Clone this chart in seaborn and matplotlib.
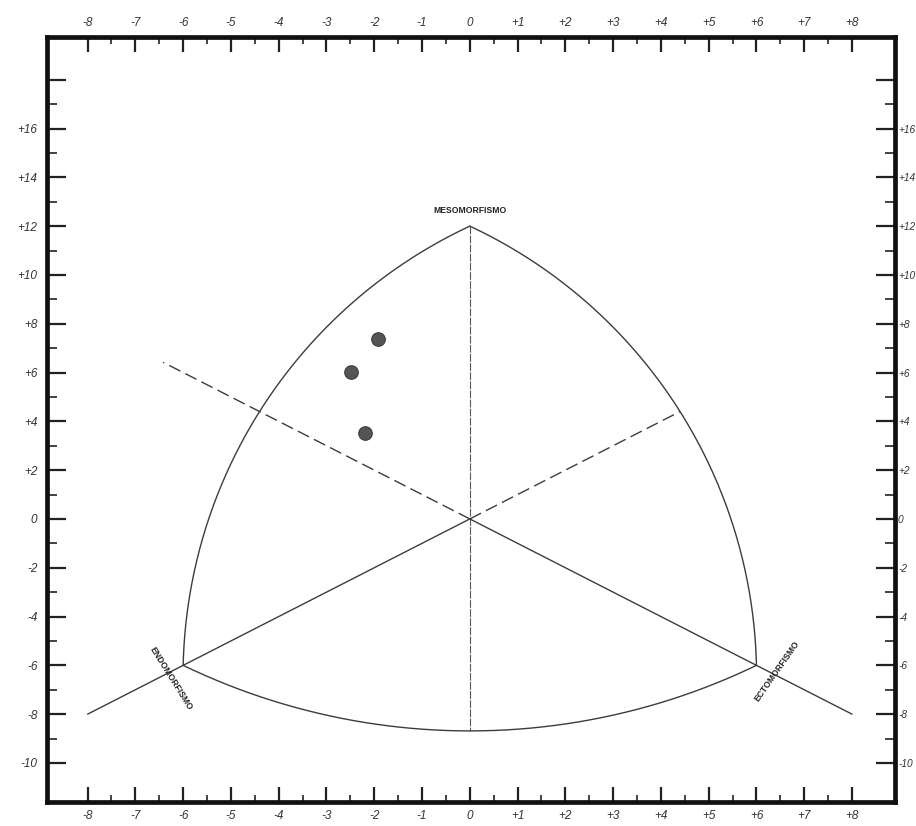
import numpy as np
import matplotlib
matplotlib.use("Agg")
import matplotlib.pyplot as plt
import seaborn as sns
from matplotlib.ticker import FixedLocator

# Somatotype of each subject on the somatochart
# X = ecto - endo, Y = 2*meso - (endo + ecto)
som_x = [-1.92, -2.49, -2.20]
som_y = [7.38, 6.02, 3.52]

# Poles of the somatochart
pole_names = ["MESOMORFISMO", "ENDOMORFISMO", "ECTOMORFISMO"]
MESO = (0.0, 12.0)
ENDO = (-6.0, -6.0)
ECTO = (6.0, -6.0)

# Tick values and labels
x_ticks = [-8, -7, -6, -5, -4, -3, -2, -1, 0, 1, 2, 3, 4, 5, 6, 7, 8]
x_labels = ["-8", "-7", "-6", "-5", "-4", "-3", "-2", "-1", "0",
            "+1", "+2", "+3", "+4", "+5", "+6", "+7", "+8"]
y_ticks = [-10, -8, -6, -4, -2, 0, 2, 4, 6, 8, 10, 12, 14, 16, 18]
y_labels = ["-10", "-8", "-6", "-4", "-2", "0", "+2", "+4", "+6", "+8",
            "+10", "+12", "+14", "+16", ""]

# drawing scale: vertical unit is about half the horizontal unit
K = 24.4 / 47.8

sns.set_style("white")
plt.rcParams["font.family"] = ["Liberation Sans", "DejaVu Sans"]

W, H = 916, 826
fig = plt.figure(figsize=(W / 100, H / 100), dpi=100)
left, right, top, bottom = 47, 895, 37, 802
ax = fig.add_axes([left / W, 1 - bottom / H, (right - left) / W, (bottom - top) / H])
ax.set_xlim(-8.85, 8.9)
ax.set_ylim(-11.6, 19.75)

line_col = "#3c3c3c"


def arc(p1, p2, radius, n=200):
    """Circular arc (in equal-unit drawing space) between p1 and p2,
    with the centre on the same side of the chord as the origin."""
    a = np.array([p1[0], p1[1] * K])
    b = np.array([p2[0], p2[1] * K])
    m = (a + b) / 2
    d = b - a
    h = np.linalg.norm(d) / 2
    nrm = np.array([-d[1], d[0]]) / np.linalg.norm(d)
    if np.dot(-m, nrm) < 0:
        nrm = -nrm
    c = m + nrm * np.sqrt(radius ** 2 - h ** 2)
    t1 = np.arctan2(*(a - c)[::-1])
    t2 = np.arctan2(*(b - c)[::-1])
    dt = (t2 - t1 + np.pi) % (2 * np.pi) - np.pi
    t = t1 + np.linspace(0, dt, n)
    u = c[0] + radius * np.cos(t)
    w = c[1] + radius * np.sin(t)
    return u, w / K, c


# outline of the somatochart
R_side = 10.40
R_base = 13.81
lx, ly, _ = arc(MESO, ENDO, R_side)
rx, ry, c_right = arc(MESO, ECTO, R_side)
bx, by, c_base = arc(ENDO, ECTO, R_base)
for xs, ys in [(lx, ly), (rx, ry), (bx, by)]:
    ax.plot(xs, ys, color=line_col, lw=1.0, solid_capstyle="round")

# lowest point of the base arc on the vertical axis
base_low = (c_base[1] - R_base) / K

# vertical axis through the centre
ax.plot([0, 0], [MESO[1], base_low], color="#5a5a5a", lw=0.8,
        linestyle=(0, (7, 1.2)))

# endomorph and ectomorph axes (solid, extended beyond the poles)
ax.plot([0, -8.0], [0, -8.0], color=line_col, lw=1.0)
ax.plot([0, 8.0], [0, -8.0], color=line_col, lw=1.0)

# dashed continuations through the centre
ul_end = -6.42
ax.plot([0, ul_end], [0, -ul_end], color=line_col, lw=1.0,
        linestyle=(0, (9, 4)))
# upper-right dashed line stops on the right arc
cu, cw = c_right
dirv = np.array([1.0, K]) / np.hypot(1.0, K)
bq = -2 * (dirv[0] * cu + dirv[1] * cw)
cq = cu ** 2 + cw ** 2 - R_side ** 2
tq = (-bq + np.sqrt(bq ** 2 - 4 * cq)) / 2
ur_end = tq * dirv[0]
ax.plot([0, ur_end], [0, ur_end], color=line_col, lw=1.0,
        linestyle=(0, (9, 4)))

# pole labels
pole_kw = dict(fontsize=6.2, fontweight="bold", color="#222222",
               family=["Liberation Sans", "DejaVu Sans"])
ax.text(MESO[0], MESO[1] + 0.45, pole_names[0], ha="center", va="bottom", **pole_kw)
ax.text(ENDO[0] - 0.25, ENDO[1] - 0.55, pole_names[1], ha="center", va="center",
        rotation=-58, rotation_mode="anchor", **pole_kw)
ax.text(ECTO[0] + 0.42, ECTO[1] - 0.25, pole_names[2], ha="center", va="center",
        rotation=55, rotation_mode="anchor", **pole_kw)

# subjects
sns.scatterplot(x=som_x, y=som_y, ax=ax, s=95, color="#555555",
                edgecolor="#3a3a3a", linewidth=0.8, zorder=5, legend=False)

# frame and ticks
for sp in ax.spines.values():
    sp.set_linewidth(3.4)
    sp.set_color("#111111")
    sp.set_visible(True)

ax.xaxis.set_major_locator(FixedLocator(x_ticks))
ax.set_xticklabels(x_labels)
ax.xaxis.set_minor_locator(FixedLocator(np.arange(-7.5, 8.0, 1.0)))
ax.yaxis.set_major_locator(FixedLocator(y_ticks))
ax.set_yticklabels(y_labels)
ax.yaxis.set_minor_locator(FixedLocator(np.arange(-9, 18, 2)))

ax.tick_params(axis="x", which="major", direction="in", length=11, width=1.6,
               top=True, bottom=True, labeltop=True, labelbottom=True,
               labelsize=8.5, labelcolor="#333333", color="#222222", pad=6)
ax.tick_params(axis="x", which="minor", direction="in", length=5, width=1.2,
               top=True, bottom=True, color="#222222")
ax.tick_params(axis="y", which="major", direction="in", length=14, width=1.6,
               left=True, right=True, labelleft=True, labelright=False,
               labelsize=8.5, labelcolor="#333333", color="#222222", pad=7)
ax.tick_params(axis="y", which="minor", direction="in", length=7, width=1.2,
               left=True, right=True, color="#222222")
for t in ax.xaxis.get_major_ticks():
    t.label2.set_y(1.0)
for t in ax.xaxis.get_major_ticks():
    t.label2.set_fontsize(8.5)
ax.xaxis.set_tick_params(which="major", labeltop=True)

# labels along the right edge, tight against the frame
sec = ax.secondary_yaxis("right")
sec.yaxis.set_major_locator(FixedLocator(y_ticks))
sec.set_yticklabels(y_labels)
sec.tick_params(axis="y", which="both", length=0, pad=2.2, labelsize=7.3,
                labelcolor="#333333")
sec.spines["right"].set_visible(False)

for lab in ax.get_xticklabels() + ax.get_yticklabels() + sec.get_yticklabels():
    lab.set_fontstyle("italic")
for t in ax.xaxis.get_major_ticks():
    t.label2.set_fontstyle("italic")

ax.set_xlabel("")
ax.set_ylabel("")
ax.grid(False)

fig.savefig("out.png", dpi=100)
